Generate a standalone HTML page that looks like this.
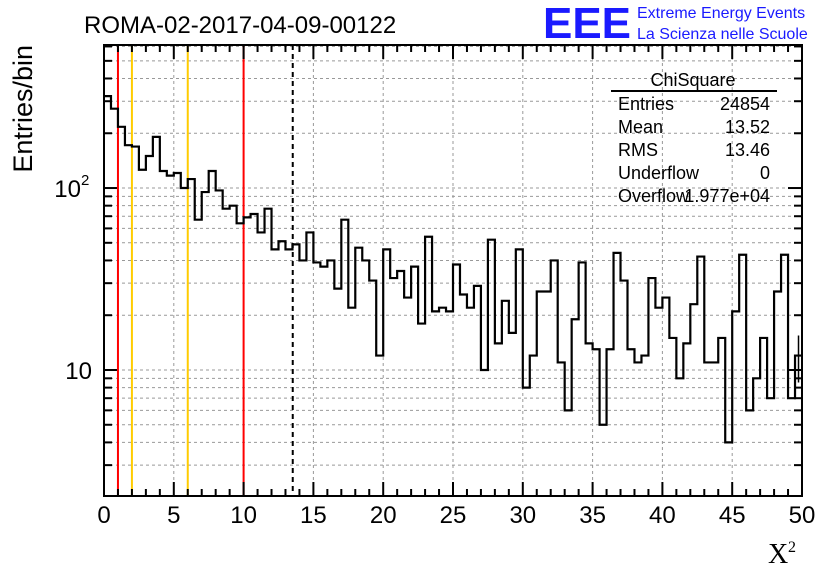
<!DOCTYPE html>
<html><head><meta charset="utf-8"><style>
body{margin:0;background:#fff;width:836px;height:572px;overflow:hidden}
svg{display:block;font-family:"Liberation Sans",sans-serif}
</style></head><body>
<svg id="c" width="836" height="572"></svg>
<script>
const binValues=[320,273,217,172,169,126,150,191,124,117,121,100,112,67,95,124,97,77,80,64,69,72,57,77,46,51,46,49,40,57,39,37,40,28,67,22,47,40,31,12,46,32,35,25,37,18,54,21,22,21,38,26,22,29,10,52,14,24,16,46,8,12,27,27,40,11,6,19,39,14,13,5,13,44,31,13,11,12,32,22,25,15,9,14,23,42,11,11,15,4,21,43,6,9,15,7,27,43,7,12];
const xTicks=[0,5,10,15,20,25,30,35,40,45,50];
const statLabels=["Entries","Mean","RMS","Underflow","Overflow"];
const statValues=["24854","13.52","13.46","0","1.977e+04"];
const markerRed=[1,10];
const markerOrange=[2,6];
const meanValue=13.52;
const xMin=0,xMax=50,yMin=2.03,yMax=611;
const L=104,R=802,T=45,B=496;
const NS="http://www.w3.org/2000/svg";
const svg=document.getElementById('c');
function X(v){return L+(v-xMin)/(xMax-xMin)*(R-L);}
function Y(v){return B-(Math.log10(v)-Math.log10(yMin))/(Math.log10(yMax)-Math.log10(yMin))*(B-T);}
function mk(tag,at,txt){const e=document.createElementNS(NS,tag);for(const k in at)e.setAttribute(k,at[k]);if(txt!==undefined)e.textContent=txt;svg.appendChild(e);return e;}
for(const t of xTicks){if(t>xMin&&t<xMax){const g=mk('line',{x1:X(t),x2:X(t),y1:T,y2:B,stroke:'#999','stroke-dasharray':'3,3','stroke-width':1});

}}
for(let d=1;d<=100;d*=10){for(let m=1;m<10;m++){const v=d*m;if(v>yMin&&v<yMax){const g=mk('line',{x1:L,x2:R,y1:Y(v),y2:Y(v),stroke:'#999','stroke-dasharray':'3,3','stroke-width':1});


const tl=(m===1)?14:8;
const a=mk('line',{x1:L,x2:L+tl,y1:Y(v),y2:Y(v),stroke:'#000','stroke-width':2});


const b=mk('line',{x1:R-tl,x2:R,y1:Y(v),y2:Y(v),stroke:'#000','stroke-width':2});

}}}
function vline(v,color,dash,name){const l=mk('line',{x1:X(v),x2:X(v),y1:T,y2:B,stroke:color,'stroke-width':2});if(dash)l.setAttribute('stroke-dasharray',dash);

}
markerRed.forEach(v=>vline(v,'#f00',null,'red-marker-line'));
markerOrange.forEach(v=>vline(v,'#fc0',null,'orange-marker-line'));
vline(meanValue,'#000','5,4','mean-line');
const w=(xMax-xMin)/binValues.length;
let d='M'+X(0)+','+Y(binValues[0]);
binValues.forEach((v,i)=>{d+=' L'+X(i*w)+','+Y(v)+' L'+X((i+1)*w)+','+Y(v);});
const h=mk('path',{d:d,fill:'none',stroke:'#000','stroke-width':2.2});


const lv=binValues[binValues.length-1],lx=X(xMax-w/2);
const eb=mk('path',{d:'M'+X(xMax-w)+','+Y(lv)+' H'+X(xMax)+' M'+lx+','+Y(lv+Math.sqrt(lv))+' V'+Y(lv-Math.sqrt(lv)),stroke:'#000','stroke-width':1.5});


for(let v=0;v<=50;v+=1){const big=v%5===0;const tl=big?14:7;
const a=mk('line',{x1:X(v),x2:X(v),y1:B-tl,y2:B,stroke:'#000','stroke-width':2});


const b=mk('line',{x1:X(v),x2:X(v),y1:T,y2:T+tl,stroke:'#000','stroke-width':2});

}
xTicks.forEach(t=>{const e=mk('text',{x:X(t),y:523,'text-anchor':'middle','font-size':24},String(t));

});
const f=mk('rect',{x:L,y:T,width:R-L,height:B-T,fill:'none',stroke:'#000','stroke-width':2});


const y1=mk('text',{x:92,y:Y(10)+9,'text-anchor':'end','font-size':24},'10');


const y2=mk('text',{x:81,y:Y(100)+9,'text-anchor':'end','font-size':24},'10');


const y2e=mk('text',{x:81,y:Y(100)-3,'font-size':15},'2');


const st=mk('text',{x:693,y:86,'text-anchor':'middle','font-size':18},'ChiSquare');


const sl=mk('line',{x1:611,x2:777,y1:91,y2:91,stroke:'#000','stroke-width':2});


statLabels.forEach((s,i)=>{const a=mk('text',{x:618,y:110+i*23,'font-size':18},s);


const b=mk('text',{x:770,y:110+i*23,'text-anchor':'end','font-size':18},statValues[i]);

});
const tt=mk('text',{x:84,y:33,'font-size':24},'ROMA-02-2017-04-09-00122');


const yl=mk('text',{x:0,y:0,'font-size':27,'text-anchor':'end',transform:'translate(32,45) rotate(-90)'},'Entries/bin');


const xl=mk('text',{x:768,y:563,'font-size':28,'font-family':'Liberation Serif,serif'},'X');


const xl2=mk('text',{x:788,y:552,'font-size':16,'font-family':'Liberation Serif,serif'},'2');


const lg=mk('text',{x:543,y:38,'font-size':44,'font-weight':'bold',fill:'#1a1aff','textLength':88,'lengthAdjust':'spacingAndGlyphs'},'EEE');


const l1=mk('text',{x:637,y:18,'font-size':16,fill:'#1a1aff'},'Extreme Energy Events');


const l2=mk('text',{x:637,y:39,'font-size':16,fill:'#1a1aff'},'La Scienza nelle Scuole');


</script>
</body></html>
